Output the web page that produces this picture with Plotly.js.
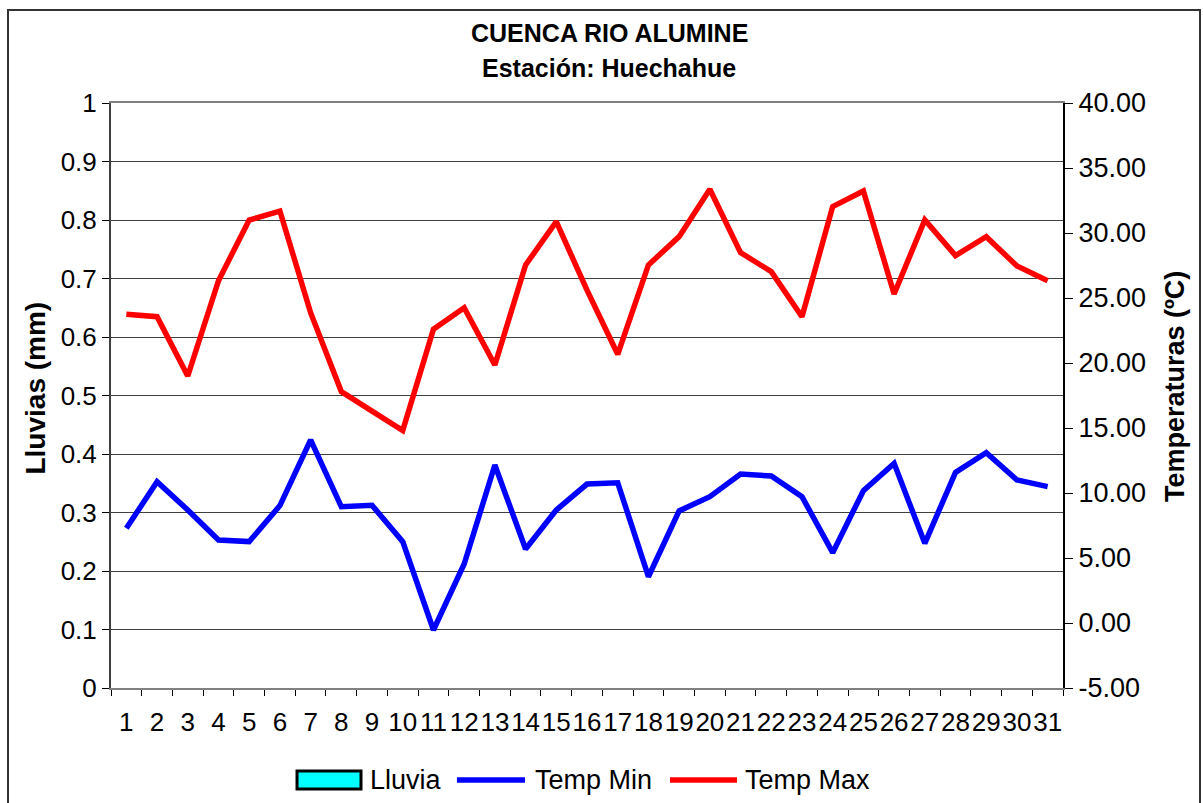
<!DOCTYPE html>
<html>
<head>
<meta charset="utf-8">
<script src="https://cdn.plot.ly/plotly-3.0.1.min.js"></script>
<style>html,body{margin:0;padding:0;background:#fff;}#chart{width:1203px;height:803px;}</style>
</head>
<body>
<div id="chart"></div>
<script>
const days = ['1','2','3','4','5','6','7','8','9','10','11','12','13','14','15','16','17','18','19','20','21','22','23','24','25','26','27','28','29','30','31'];
const lluvia = [0,0,0,0,0,0,0,0,0,0,0,0,0,0,0,0,0,0,0,0,0,0,0,0,0,0,0,0,0,0,0];
const tempMin = [7.28,10.87,8.69,6.38,6.26,9.03,14.08,8.95,9.05,6.26,-0.54,4.54,12.15,5.69,8.69,10.69,10.79,3.56,8.62,9.72,11.46,11.31,9.72,5.41,10.18,12.28,6.13,11.59,13.10,11.00,10.49];
const tempMax = [23.75,23.56,19.00,26.33,31.00,31.69,23.87,17.80,16.30,14.80,22.60,24.25,19.85,27.54,30.87,25.60,20.67,27.54,29.72,33.36,28.49,27.03,23.56,32.03,33.23,25.31,31.00,28.26,29.72,27.46,26.33];
const tempTicks = [-5,0,5,10,15,20,25,30,35,40];
const tempTickLabels = ['-5.00','0.00','5.00','10.00','15.00','20.00','25.00','30.00','35.00','40.00'];
const seriesNames = ['Lluvia','Temp Min','Temp Max'];
const seriesColors = ['#00FFFF','#0000FF','#FF0000'];
const titleLines = ['CUENCA RIO ALUMINE','Estación: Huechahue'];
const yTitleLeft = 'Lluvias (mm)';
const yTitleRight = 'Temperaturas (ºC)';

const FONT = 'Liberation Sans, Arial, sans-serif';

const traces = [
  {type:'bar', name:seriesNames[0], x:days, y:lluvia, yaxis:'y', showlegend:false,
   marker:{color:seriesColors[0], line:{color:'#000', width:0}}},
  {type:'scatter', mode:'lines', name:seriesNames[1], x:days, y:tempMin, yaxis:'y2', showlegend:false,
   line:{color:seriesColors[1], width:5.5}},
  {type:'scatter', mode:'lines', name:seriesNames[2], x:days, y:tempMax, yaxis:'y2', showlegend:false,
   line:{color:seriesColors[2], width:5.5}}
];

// legend built as decorations (symbols + labels) below the plot
const legY = -0.1573;
const annotations = [
  {text:'<b>'+titleLines[0]+'</b>', xref:'paper', yref:'paper', x:0.5236, y:1.1197, xanchor:'center', yanchor:'middle', showarrow:false, font:{family:FONT, size:25, color:'#000'}},
  {text:'<b>'+titleLines[1]+'</b>', xref:'paper', yref:'paper', x:0.5236, y:1.0598, xanchor:'center', yanchor:'middle', showarrow:false, font:{family:FONT, size:25, color:'#000'}},
  {text:'<b>'+yTitleLeft+'</b>', xref:'paper', yref:'paper', x:-0.0798, y:0.512, xanchor:'center', yanchor:'middle', textangle:-90, showarrow:false, font:{family:FONT, size:28, color:'#000'}},
  {text:'<b>'+yTitleRight+'</b>', xref:'paper', yref:'paper', x:1.117, y:0.515, xanchor:'center', yanchor:'middle', textangle:-90, showarrow:false, font:{family:FONT, size:27, color:'#000'}},
  {text:seriesNames[0], xref:'paper', yref:'paper', x:0.2700, y:legY, xanchor:'left', yanchor:'middle', showarrow:false, font:{family:FONT, size:27, color:'#000'}},
  {text:seriesNames[1], xref:'paper', yref:'paper', x:0.4433, y:legY, xanchor:'left', yanchor:'middle', showarrow:false, font:{family:FONT, size:27, color:'#000'}},
  {text:seriesNames[2], xref:'paper', yref:'paper', x:0.6639, y:legY, xanchor:'left', yanchor:'middle', showarrow:false, font:{family:FONT, size:27, color:'#000'}}
];

const shapes = [
  {type:'rect', xref:'paper', yref:'paper', x0:-0.1082, x1:1.1439, y0:-0.22, y1:1.159,
   line:{color:'#333', width:2}, fillcolor:'rgba(0,0,0,0)', layer:'below'},
  {type:'rect', xref:'paper', yref:'paper', x0:0.1954, x1:0.2626, y0:-0.1726, y1:-0.1419,
   line:{color:'#000', width:3}, fillcolor:seriesColors[0]},
  {type:'line', xref:'paper', yref:'paper', x0:0.3634, x1:0.4349, y0:legY, y1:legY,
   line:{color:seriesColors[1], width:5.5}},
  {type:'line', xref:'paper', yref:'paper', x0:0.5872, x1:0.6576, y0:legY, y1:legY,
   line:{color:seriesColors[2], width:5.5}}
];

const layout = {
  width:1203, height:803,
  paper_bgcolor:'#fff', plot_bgcolor:'#fff',
  margin:{l:111, r:140, t:103, b:115},
  font:{family:FONT, size:25, color:'#000'},
  showlegend:false,
  xaxis:{type:'category', range:[-0.5,30.5], tickmode:'linear', tick0:0, dtick:1,
    tickson:'boundaries', ticks:'outside', ticklen:6, ticklabelstandoff:10,
    tickcolor:'#000', showline:true, linecolor:'#808080', linewidth:2, mirror:true,
    showgrid:false, tickfont:{family:FONT, size:26}, tickangle:0, automargin:false},
  yaxis:{range:[0,1], dtick:0.1, tick0:0, ticks:'outside', ticklen:7, tickcolor:'#000',
    showline:true, linecolor:'#404040', linewidth:2, showgrid:true, gridcolor:'#404040', gridwidth:1,
    zeroline:false, tickfont:{family:FONT, size:26}, automargin:false},
  yaxis2:{range:[-5,40], tickmode:'array', tickvals:tempTicks, ticktext:tempTickLabels,
    overlaying:'y', side:'right',
    ticks:'outside', ticklen:8, tickcolor:'#000', showline:true, linecolor:'#000', linewidth:2,
    showgrid:false, zeroline:false, tickfont:{family:FONT, size:27}, automargin:false},
  yaxis3:{range:[-5,40], tickmode:'array', tickvals:tempTicks, overlaying:'y', side:'right', anchor:'x',
    ticks:'inside', ticklen:8, tickcolor:'#000', showticklabels:false, showline:false,
    showgrid:false, zeroline:false},
  annotations:annotations,
  shapes:shapes
};

Plotly.newPlot('chart', traces, layout, {staticPlot:true});
</script>
</body>
</html>
